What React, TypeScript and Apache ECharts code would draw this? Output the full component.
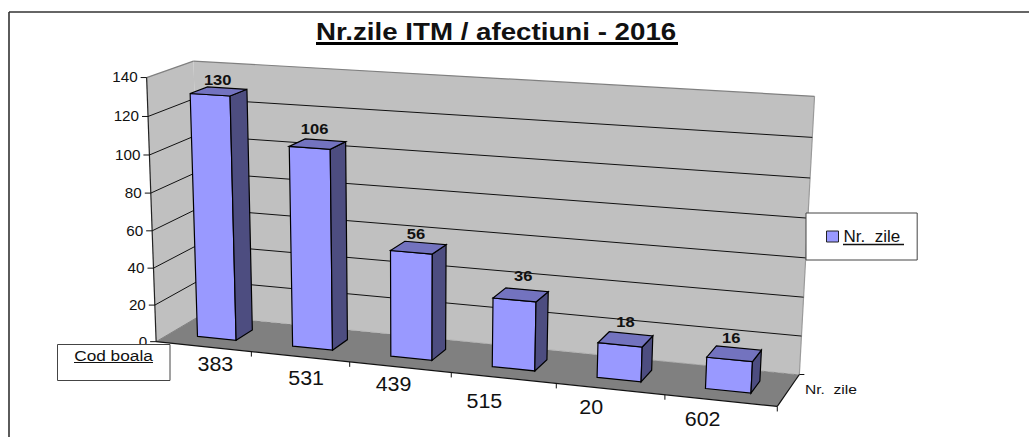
import React, { useEffect, useRef } from "react";
import * as echarts from "echarts";

// ---------- data ----------
const categories = ["383", "531", "439", "515", "20", "602"];
const days = [130, 106, 56, 36, 18, 16];
const valueTicks = [0, 20, 40, 60, 80, 100, 120, 140];
const seriesName = "Nr.  zile";
const titleText = "Nr.zile ITM / afectiuni - 2016";
const categoryAxisTitle = "Cod boala";

// ---------- layout ----------
const FONT = '"Liberation Sans", Arial, sans-serif';
const VALUE_MAX = 140;
// known cube points -> picture pixels [x, y, z, u, v], z = 0 front, z = 1 back wall
const calibration = [
  [0, 0, 0, 157.5, 341.5],
  [0, 1, 0, 145, 77],
  [1, 0, 0, 777, 405.7],
  [1 / 3, 0, 0, 350, 363],
  [2 / 3, 0, 0, 555.7, 385],
  [0, 4 / 7, 0, 150.5, 192.5],
  [0, 2 / 7, 0, 154.5, 267.5],
  [0, 1, 1, 195, 62],
  [0, 0, 1, 199, 315],
  [1, 0, 1, 800, 373],
  [1, 1, 1, 814.7, 96],
  [1, 5 / 7, 1, 809.5, 178],
  [1, 3 / 7, 1, 806, 259],
];
const BAR_FRACTION = 0.41;
const BAR_Z0 = 0.3;
const BAR_Z1 = 0.68;
const categoryNudge = [[12, 17], [6, 21], [-6.5, 16.5], [-19, 23], [-19, 17.5], [-18, 18]];
const valueLabelNudge = [[0, 0], [-2, -3.5], [-1.5, -1.5], [3.5, -7], [1, -6], [-2, -4]];

// ---------- projection ----------
function solve(A: number[][], b: number[]) {
  const n = b.length;
  const m = A.map((r, i) => [...r, b[i]]);
  for (let c = 0; c < n; c++) {
    let p = c;
    for (let r = c + 1; r < n; r++) if (Math.abs(m[r][c]) > Math.abs(m[p][c])) p = r;
    [m[c], m[p]] = [m[p], m[c]];
    for (let r = 0; r < n; r++) {
      if (r === c) continue;
      const f = m[r][c] / m[c][c];
      for (let k = c; k <= n; k++) m[r][k] -= f * m[c][k];
    }
  }
  return m.map((r, i) => r[n] / r[i]);
}
function fitCamera() {
  const rows: number[][] = [];
  const rhs: number[] = [];
  for (const [x, y, z, u, v] of calibration) {
    rows.push([x, y, z, 1, 0, 0, 0, 0, -u * x, -u * y, -u * z]);
    rhs.push(u);
    rows.push([0, 0, 0, 0, x, y, z, 1, -v * x, -v * y, -v * z]);
    rhs.push(v);
  }
  const N = 11;
  const AtA = Array.from({ length: N }, () => new Array(N).fill(0));
  const Atb = new Array(N).fill(0);
  rows.forEach((r, idx) => {
    const wt = 1 / 1e4;
    for (let i = 0; i < N; i++) {
      Atb[i] += r[i] * rhs[idx] * wt;
      for (let j = 0; j < N; j++) AtA[i][j] += r[i] * r[j] * wt;
    }
  });
  return solve(AtA, Atb);
}
const cam = fitCamera();
function project(x: number, y: number, z: number): [number, number] {
  const w = cam[8] * x + cam[9] * y + cam[10] * z + 1;
  return [
    (cam[0] * x + cam[1] * y + cam[2] * z + cam[3]) / w,
    (cam[4] * x + cam[5] * y + cam[6] * z + cam[7]) / w,
  ];
}

// hidden axes supply the scales: pixel in the hidden grid -> unit cube
function unitFrom(params: any, api: any, cat: number, value: number, bandShift = 0): [number, number] {
  const r = params.coordSys;
  const c = api.coord([cat, value]);
  return [(c[0] + bandShift - r.x) / r.width, (r.y + r.height - c[1]) / r.height];
}

const poly = (pts: [number, number][], fill: string, stroke = "none", lineWidth = 0) => ({
  type: "polygon",
  silent: true,
  shape: { points: pts },
  style: { fill, stroke, lineWidth },
});
const seg = (a: [number, number], b: [number, number], stroke: string, lineWidth = 1, lineDash?: number[]) => ({
  type: "line",
  silent: true,
  shape: { x1: a[0], y1: a[1], x2: b[0], y2: b[1] },
  style: { stroke, lineWidth, lineDash },
});
// the reference's lettering is stretched sideways, hence scaleX
const txt = (text: string, x: number, y: number, fontSize: number, fontWeight: string, textAlign = "center", scaleX = 1, extra: any = {}) => ({
  type: "text",
  silent: true,
  x,
  y,
  scaleX,
  ...extra,
  style: { text, x: 0, y: 0, fill: "#111", fontSize, fontWeight, fontFamily: FONT, textAlign, textVerticalAlign: "middle" },
});

const renderRoom = () => {
  const p = project;
  const FBL = p(0, 0, 0), FTL = p(0, 1, 0), FBR = p(1, 0, 0);
  const BBL = p(0, 0, 1), BTL = p(0, 1, 1), BBR = p(1, 0, 1), BTR = p(1, 1, 1);
  return {
    type: "group",
    children: [
      poly([FBL, BBL, BTL, FTL], "#C0C0C0"),
      poly([BBL, BBR, BTR, BTL], "#C0C0C0"),
      poly([FBL, FBR, BBR, BBL], "#808080"),
      seg(FTL, BTL, "#808080", 1.2),
      seg(BTL, BTR, "#808080", 1.2),
      seg(BTR, BBR, "#9a9a9a", 1.2),
      seg(BBL, BBR, "#B0B0B0", 1, [6, 4]),
      seg(FBL, BBL, "#808080", 1),
      seg(FTL, FBL, "#222", 1.2),
      seg(FBL, FBR, "#111", 1.2),
      seg(FBR, BBR, "#111", 1.2),
      seg(BBR, [BBR[0] + 5, BBR[1]], "#111", 1),
    ],
  };
};

const renderValueTick = (params: any, api: any) => {
  const value = api.value(1);
  const [, y] = unitFrom(params, api, 0, value);
  const front = project(0, y, 0);
  const back = project(0, y, 1);
  const right = project(1, y, 1);
  const children: any[] = [
    seg([front[0] - 6, front[1]], front, "#111", 1),
    txt(String(value), front[0] - 9, front[1], 14.5, "normal", "right", 1.05),
  ];
  if (value > 0 && value < VALUE_MAX) {
    children.push(seg(front, back, "#111", 1), seg(back, right, "#111", 1));
  }
  return { type: "group", children };
};

const renderCategory = (params: any, api: any) => {
  const i = api.value(0);
  const band = api.size([1, 0])[0];
  const [xc] = unitFrom(params, api, i, 0);
  const [xe] = unitFrom(params, api, i, 0, band / 2);
  const mid = project(xc, 0, 0);
  const end = project(xe, 0, 0);
  const n = categoryNudge[i];
  return {
    type: "group",
    children: [
      seg(end, [end[0], end[1] + 5], "#111", 1),
      txt(categories[i], mid[0] + n[0], mid[1] + n[1], 19.5, "normal", "center", 1.1),
    ],
  };
};

const renderBar = (params: any, api: any) => {
  const i = api.value(0);
  const v = api.value(1);
  const band = api.size([1, 0])[0];
  const half = (band * BAR_FRACTION) / 2;
  const [x0] = unitFrom(params, api, i, 0, -half);
  const [x1] = unitFrom(params, api, i, 0, half);
  const [xc, y] = unitFrom(params, api, i, v);
  const P = (x: number, yy: number, z: number) => project(x, yy, z);
  const a = P(x0, 0, BAR_Z0), b = P(x1, 0, BAR_Z0), c = P(x1, y, BAR_Z0), d = P(x0, y, BAR_Z0);
  const e = P(x1, 0, BAR_Z1), f = P(x1, y, BAR_Z1), g = P(x0, y, BAR_Z1);
  const capCenter = P(xc, y, (BAR_Z0 + BAR_Z1) / 2);
  const stroke = "#000";
  const n = valueLabelNudge[i];
  return {
    type: "group",
    children: [
      poly([a, b, c, d], "#9999FF", stroke, 1.2),
      poly([b, e, f, c], "#4D4D80", stroke, 1.2),
      poly([d, c, f, g], "#7373BF", stroke, 1.2),
      txt(String(v), capCenter[0] - 1 + n[0], capCenter[1] - 12 + n[1], 15, "bold", "center", 1.1),
    ],
  };
};

export default function App() {
  const ref = useRef<HTMLDivElement>(null);
  useEffect(() => {
    const chart = echarts.init(ref.current!, undefined, { renderer: "svg" });
    chart.setOption({
      animation: false,
      backgroundColor: "#fff",
      legend: {
        data: [{ name: seriesName, icon: "rect", itemStyle: { color: "#9999FF", borderColor: "#222", borderWidth: 1 } }],
        left: 806,
        top: 213,
        padding: [15, 17, 15, 20],
        itemWidth: 12,
        itemHeight: 11,
        itemGap: 0,
        selectedMode: false,
        backgroundColor: "#fff",
        borderColor: "#444",
        borderWidth: 1,
        borderRadius: 0,
        textStyle: { fontFamily: FONT, fontSize: 17, color: "#111" },
        z: 20,
      },
      grid: { left: 0, right: 0, top: 0, bottom: 0 },
      xAxis: { type: "category", data: categories, show: false },
      yAxis: { type: "value", min: 0, max: VALUE_MAX, interval: 20, show: false },
      graphic: [
        { type: "line", silent: true, shape: { x1: 9, y1: 12, x2: 1029, y2: 12 }, style: { stroke: "#333", lineWidth: 1.6 }, z: 30 },
        { type: "line", silent: true, shape: { x1: 9, y1: 12, x2: 9, y2: 437 }, style: { stroke: "#333", lineWidth: 1.6 }, z: 30 },
        { ...txt(titleText, 316, 32, 23, "bold", "left", 1.205), z: 30 },
        { type: "rect", silent: true, shape: { x: 316, y: 42, width: 362, height: 3 }, style: { fill: "#000" }, z: 30 },
        { type: "rect", silent: true, shape: { x: 57.5, y: 344.5, width: 112.5, height: 36 }, style: { fill: "#fff", stroke: "#444", lineWidth: 1 }, z: 30 },
        { ...txt(categoryAxisTitle, 113.5, 355, 15, "normal", "center", 1.15), z: 31 },
        { type: "line", silent: true, shape: { x1: 74, y1: 362.5, x2: 153, y2: 362.5 }, style: { stroke: "#111", lineWidth: 1 }, z: 31 },
        { type: "line", silent: true, shape: { x1: 843, y1: 244.5, x2: 904, y2: 244.5 }, style: { stroke: "#111", lineWidth: 1.6 }, z: 31 },
        { ...txt(seriesName, 805, 389, 13, "normal", "left", 1.2), z: 31 },
      ],
      series: [
        { type: "custom", name: "room", coordinateSystem: "cartesian2d", data: [[0, 0]], renderItem: renderRoom, z: 1 },
        { type: "custom", name: "values", coordinateSystem: "cartesian2d", data: valueTicks.map((t) => [0, t]), encode: { x: 0, y: 1 }, renderItem: renderValueTick, z: 2 },
        { type: "custom", name: "cats", coordinateSystem: "cartesian2d", data: categories.map((_, i) => [i, 0]), encode: { x: 0, y: 1 }, renderItem: renderCategory, z: 3 },
        { type: "custom", name: seriesName, coordinateSystem: "cartesian2d", data: days.map((d, i) => [i, d]), encode: { x: 0, y: 1 }, itemStyle: { color: "#9999FF", borderColor: "#222", borderWidth: 1 }, renderItem: renderBar, z: 4 },
      ],
    });
    return () => chart.dispose();
  }, []);
  return <div ref={ref} style={{ position: "fixed", left: 0, top: 0, width: 1029, height: 437 }} />;
}
